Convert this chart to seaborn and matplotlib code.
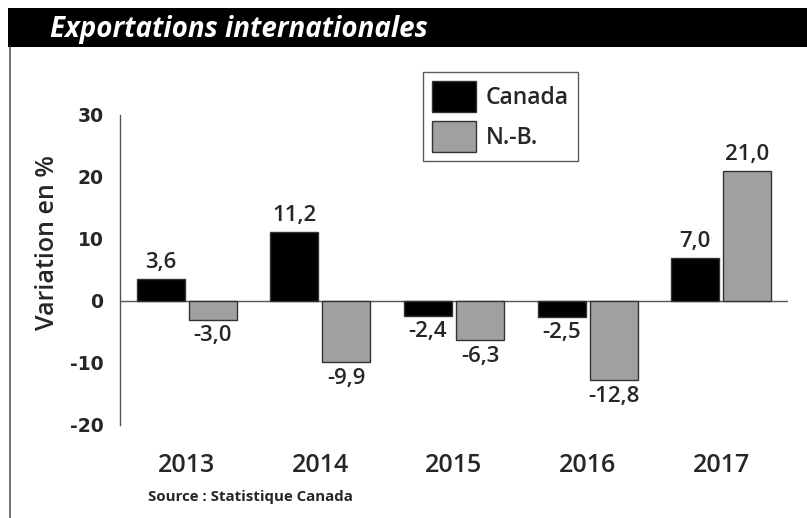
import pandas as pd
import matplotlib.pyplot as plt
import seaborn as sns
from matplotlib.patches import Rectangle
from matplotlib.lines import Line2D

# Data
years = ['2013', '2014', '2015', '2016', '2017']
canada = [3.6, 11.2, -2.4, -2.5, 7.0]
nb = [-3.0, -9.9, -6.3, -12.8, 21.0]
series = ['Canada', 'N.-B.']
yticks = [-20, -10, 0, 10, 20, 30]

df = pd.DataFrame({
    'Année': years * 2,
    'Variation': canada + nb,
    'Région': [series[0]] * len(years) + [series[1]] * len(years),
})

sns.set_style('white')
plt.rcParams['font.family'] = ['Open Sans', 'DejaVu Sans']
plt.rcParams['axes.unicode_minus'] = False

fig = plt.figure(figsize=(8.07, 5.18), dpi=100)
ax = fig.add_axes([120 / 807, 93 / 518, 668 / 807, 310 / 518])

sns.barplot(data=df, x='Année', y='Variation', hue='Région',
            palette=['#000000', '#a0a0a0'], width=0.78, gap=0.08,
            edgecolor='#333333', linewidth=1, ax=ax)

# value labels with French decimal comma
for cont in ax.containers:
    vals = cont.datavalues
    labels = [f'{v:.1f}'.replace('.', ',') for v in vals]
    ax.bar_label(cont, labels=labels, padding=4, fontsize=16,
                 fontweight='semibold')

ax.set_xlim(-0.5, 4.5)
ax.set_ylim(-20, 30)
ax.set_yticks(yticks)
ax.set_yticklabels([str(t) for t in yticks], fontfamily='DejaVu Sans',
                   fontweight='bold', fontsize=13.5)
ax.axhline(0, color='#555555', lw=1, zorder=0)

for s in ['top', 'right', 'bottom']:
    ax.spines[s].set_visible(False)
ax.spines['left'].set_color('#555555')
ax.spines['left'].set_linewidth(1)

ax.tick_params(axis='y', length=0, pad=12)
ax.tick_params(axis='x', length=0, pad=20, labelsize=18)
for lbl in ax.get_xticklabels():
    lbl.set_fontweight('semibold')

ax.set_xlabel('')
ax.set_ylabel('Variation en %', fontsize=18, fontweight='semibold')
ax.yaxis.set_label_coords(-0.09, 0.59)

# legend
ax.get_legend().remove()
handles = [Rectangle((0, 0), 1, 1, facecolor=c, edgecolor='#333333', lw=1)
           for c in ['#000000', '#a0a0a0']]
leg = fig.legend(handles, series, loc='upper left',
                 bbox_to_anchor=(423 / 807, 1 - 72 / 518),
                 fontsize=16.5, frameon=True, fancybox=False,
                 handlelength=1.9, handleheight=1.7, handletextpad=0.45,
                 labelspacing=0.4, borderpad=0.4, borderaxespad=0,
                 prop={'weight': 'semibold', 'size': 16.5})
leg.get_frame().set_edgecolor('#333333')
leg.get_frame().set_linewidth(1)

# header band and frame line
fig.patches.append(Rectangle((8 / 807, 1 - 47 / 518), 1, 39 / 518,
                             transform=fig.transFigure, facecolor='black',
                             edgecolor='none'))
fig.lines.append(Line2D([10 / 807, 10 / 807], [0, 1 - 47 / 518],
                        transform=fig.transFigure, color='#555555', lw=1.2))
fig.text(50 / 807, 1 - 30 / 518, 'Exportations internationales',
         color='white', fontsize=20, fontweight='bold', fontstyle='italic',
         va='center', ha='left')

fig.text(148 / 807, 1 - 497 / 518, 'Source : Statistique Canada',
         fontsize=10.8, fontweight='bold', va='center', ha='left')

plt.savefig('out.png', dpi=100)
plt.close()
